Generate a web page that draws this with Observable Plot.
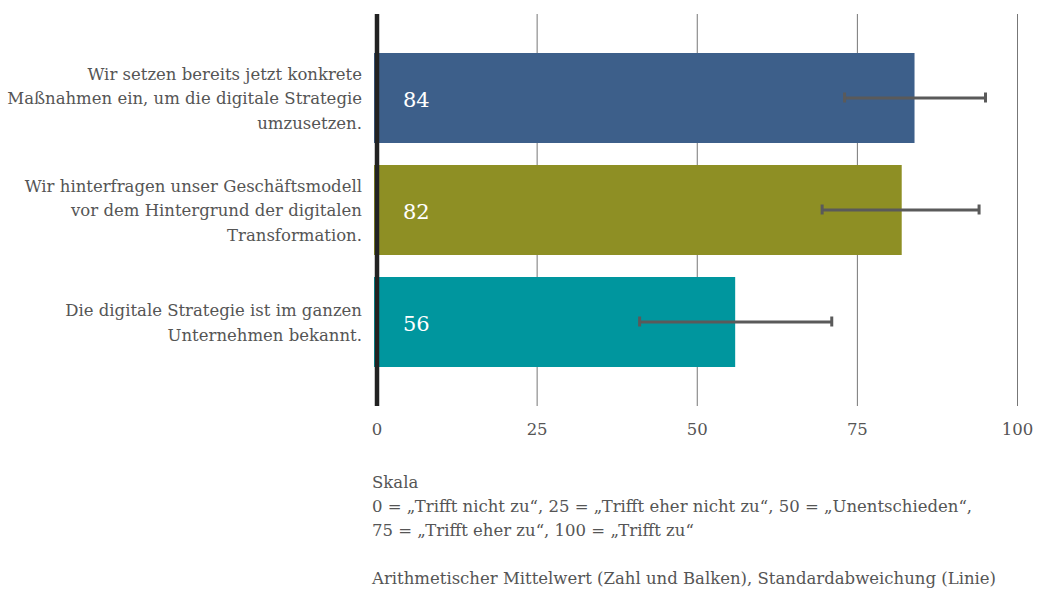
<!DOCTYPE html>
<html>
<head>
<meta charset="utf-8">
<script src="https://cdn.jsdelivr.net/npm/d3@7"></script>
<script src="https://cdn.jsdelivr.net/npm/@observablehq/plot@0.6"></script>
<style>
  html, body { margin: 0; padding: 0; background: #fff; }
  #caption { margin: 20.5px 0 0 372px; font-family: "DejaVu Serif", serif; font-size: 16.5px; line-height: 24px; color: #555; white-space: pre; }
</style>
</head>
<body>
<div id="chart"></div>
<div id="caption"></div>
<script>
const categories = [
  "Wir setzen bereits jetzt konkrete\nMaßnahmen ein, um die digitale Strategie\numzusetzen.",
  "Wir hinterfragen unser Geschäftsmodell\nvor dem Hintergrund der digitalen\nTransformation.",
  "Die digitale Strategie ist im ganzen\nUnternehmen bekannt."
];
const means = [84, 82, 56];
const sdLow = [73, 69.5, 41];
const sdHigh = [95, 94, 71];
const colors = ["#3d5f8a", "#8e8f24", "#00969e"];
const xTicks = [0, 25, 50, 75, 100];
const captionLines = [
  "Skala",
  "0 = „Trifft nicht zu“, 25 = „Trifft eher nicht zu“, 50 = „Unentschieden“,",
  "75 = „Trifft eher zu“, 100 = „Trifft zu“",
  "",
  "Arithmetischer Mittelwert (Zahl und Balken), Standardabweichung (Linie)"
];

const data = categories.map((c, i) => ({cat: c, mean: means[i], lo: sdLow[i], hi: sdHigh[i]}));

const chart = Plot.plot({
  width: 1041,
  height: 450,
  marginLeft: 376.5,
  marginRight: 24,
  marginTop: 14,
  marginBottom: 44,
  style: {fontFamily: "'DejaVu Serif', serif", fontSize: "16.5px", color: "#555", background: "#fff"},
  x: {domain: [0, 100], ticks: xTicks},
  y: {domain: categories, paddingInner: 0.2, paddingOuter: 0.34},
  color: {domain: categories, range: colors},
  marks: [
    Plot.ruleX(xTicks.slice(1), {stroke: "#777", strokeWidth: 1, strokeOpacity: 1}),
    Plot.barX(data, {x1: 0, x2: "mean", y: "cat", fill: "cat", insetLeft: -2.5}),
    Plot.ruleX([0], {stroke: "#222", strokeWidth: 4.5}),
    Plot.text(data, {x: 0, y: "cat", text: d => String(d.mean), textAnchor: "start", dx: 26, dy: 2, fill: "#fff", fontSize: 21}),
    Plot.ruleY(data, {x1: "lo", x2: "hi", y: "cat", stroke: "#5a5a5a", strokeWidth: 3, dy: -0.5}),
    Plot.tickX(data, {x: "lo", y: "cat", stroke: "#5a5a5a", strokeWidth: 3, insetTop: 39.5, insetBottom: 40.5}),
    Plot.tickX(data, {x: "hi", y: "cat", stroke: "#5a5a5a", strokeWidth: 3, insetTop: 39.5, insetBottom: 40.5}),
    Plot.axisX({ticks: xTicks, tickSize: 0, tickPadding: 17, label: null, fill: "#555", fontSize: 16.5}),
    Plot.axisY({tickSize: 0, tickPadding: 15, label: null, fill: "#555", fontSize: 16.5, lineHeight: 1.48, textAnchor: "end", dy: -2})
  ]
});
document.getElementById("chart").appendChild(chart);
document.getElementById("caption").textContent = captionLines.join("\n");
</script>
</body>
</html>
